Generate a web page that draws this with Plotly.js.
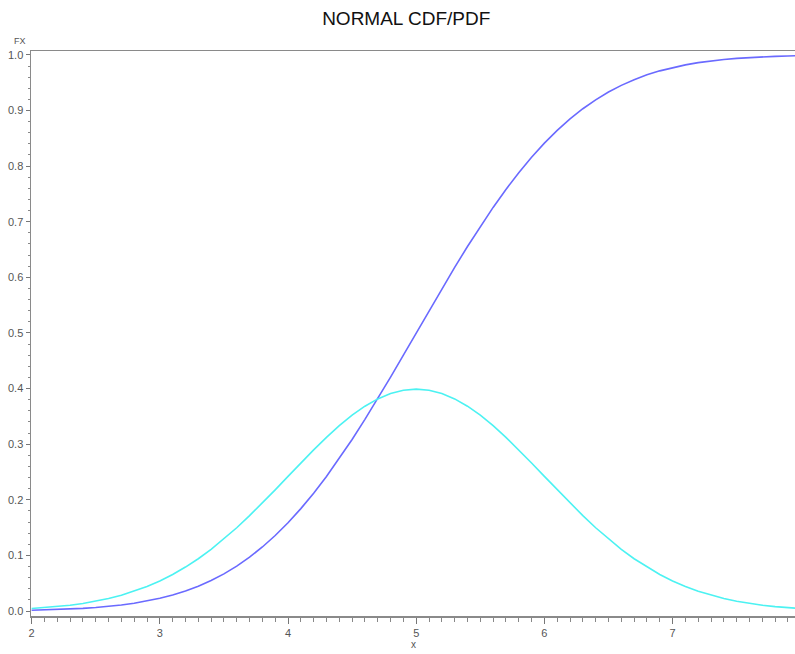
<!DOCTYPE html>
<html>
<head>
<meta charset="utf-8">
<script src="https://cdn.plot.ly/plotly-3.0.1.min.js"></script>
<style>html,body{margin:0;padding:0;background:#fff;overflow:hidden;}</style>
</head>
<body>
<div id="chart" style="width:795px;height:654px;"></div>
<script>
// x values read along the axis (step 0.1 from 2 to 8)
const xVals = [2.0,2.1,2.2,2.3,2.4,2.5,2.6,2.7,2.8,2.9,
  3.0,3.1,3.2,3.3,3.4,3.5,3.6,3.7,3.8,3.9,
  4.0,4.1,4.2,4.3,4.4,4.5,4.6,4.7,4.8,4.9,
  5.0,5.1,5.2,5.3,5.4,5.5,5.6,5.7,5.8,5.9,
  6.0,6.1,6.2,6.3,6.4,6.5,6.6,6.7,6.8,6.9,
  7.0,7.1,7.2,7.3,7.4,7.5,7.6,7.7,7.8,7.9,8.0];

// CDF curve (blue)
const cdfVals = [0.0013,0.0019,0.0026,0.0035,0.0047,0.0062,0.0082,0.0107,0.0139,0.0179,
  0.0228,0.0287,0.0359,0.0446,0.0548,0.0668,0.0808,0.0968,0.1151,0.1357,
  0.1587,0.1841,0.2119,0.2420,0.2743,0.3085,0.3446,0.3821,0.4207,0.4602,
  0.5000,0.5398,0.5793,0.6179,0.6554,0.6915,0.7257,0.7580,0.7881,0.8159,
  0.8413,0.8643,0.8849,0.9032,0.9192,0.9332,0.9452,0.9554,0.9641,0.9713,
  0.9772,0.9821,0.9861,0.9893,0.9918,0.9938,0.9953,0.9965,0.9974,0.9981,0.9987];

// PDF curve (cyan)
const pdfVals = [0.0044,0.0060,0.0079,0.0104,0.0136,0.0175,0.0224,0.0283,0.0355,0.0440,
  0.0540,0.0656,0.0790,0.0940,0.1109,0.1295,0.1497,0.1714,0.1942,0.2179,
  0.2420,0.2661,0.2897,0.3123,0.3332,0.3521,0.3683,0.3814,0.3910,0.3970,
  0.3989,0.3970,0.3910,0.3814,0.3683,0.3521,0.3332,0.3123,0.2897,0.2661,
  0.2420,0.2179,0.1942,0.1714,0.1497,0.1295,0.1109,0.0940,0.0790,0.0656,
  0.0540,0.0440,0.0355,0.0283,0.0224,0.0175,0.0136,0.0104,0.0079,0.0060,0.0044];

const xTicks = [2,3,4,5,6,7];
const yTicks = [0.0,0.1,0.2,0.3,0.4,0.5,0.6,0.7,0.8,0.9,1.0];

const traces = [
  {x: xVals, y: cdfVals, type: 'scatter', mode: 'lines', name: 'CDF',
   line: {color: '#6a6aff', width: 1.6}},
  {x: xVals, y: pdfVals, type: 'scatter', mode: 'lines', name: 'PDF',
   line: {color: '#4cf2f2', width: 1.6}}
];

const tickFont = {family: 'Liberation Sans, Arial, sans-serif', size: 11, color: '#555'};

const layout = {
  width: 795, height: 654,
  margin: {l: 31, r: 0, t: 51, b: 38, pad: 0},
  paper_bgcolor: '#fff', plot_bgcolor: '#fff',
  showlegend: false,
  title: {text: 'NORMAL CDF/PDF', x: 0.511, xref: 'container', xanchor: 'center', y: 0.972, yanchor: 'middle',
          font: {family: 'Liberation Sans, Arial, sans-serif', size: 19, color: '#111'}},
  xaxis: {
    range: [1.995, 7.955], tickvals: xTicks, ticktext: xTicks.map(String),
    showgrid: false, zeroline: false,
    showline: true, linecolor: '#8a8a8a', linewidth: 1.5, mirror: true,
    ticks: 'outside', ticklen: 6, tickwidth: 1, tickcolor: '#777',
    minor: {dtick: 0.1, tick0: 2, ticks: 'outside', ticklen: 4, tickcolor: '#888', showgrid: false},
    tickfont: tickFont
  },
  yaxis: {
    range: [-0.009, 1.007], tickvals: yTicks, ticktext: yTicks.map(v => v.toFixed(1)),
    showgrid: false, zeroline: false,
    showline: true, linecolor: '#8a8a8a', linewidth: 1.5, mirror: false,
    ticks: 'outside', ticklen: 4, tickwidth: 1, tickcolor: '#777',
    minor: {dtick: 0.02, tick0: 0, ticks: 'outside', ticklen: 2, tickcolor: '#888', showgrid: false},
    tickfont: tickFont
  },
  annotations: [
    {text: 'FX', xref: 'paper', yref: 'paper', x: -0.004, y: 1.005, xanchor: 'right', yanchor: 'bottom',
     showarrow: false, font: {family: 'Liberation Sans, Arial, sans-serif', size: 9, color: '#555'}},
    {text: 'x', xref: 'paper', yref: 'paper', x: 0.5, y: -0.037, xanchor: 'center', yanchor: 'top',
     showarrow: false, font: {family: 'Liberation Sans, Arial, sans-serif', size: 10, color: '#555'}}
  ]
};

Plotly.newPlot('chart', traces, layout, {displayModeBar: false, staticPlot: true});
</script>
</body>
</html>
